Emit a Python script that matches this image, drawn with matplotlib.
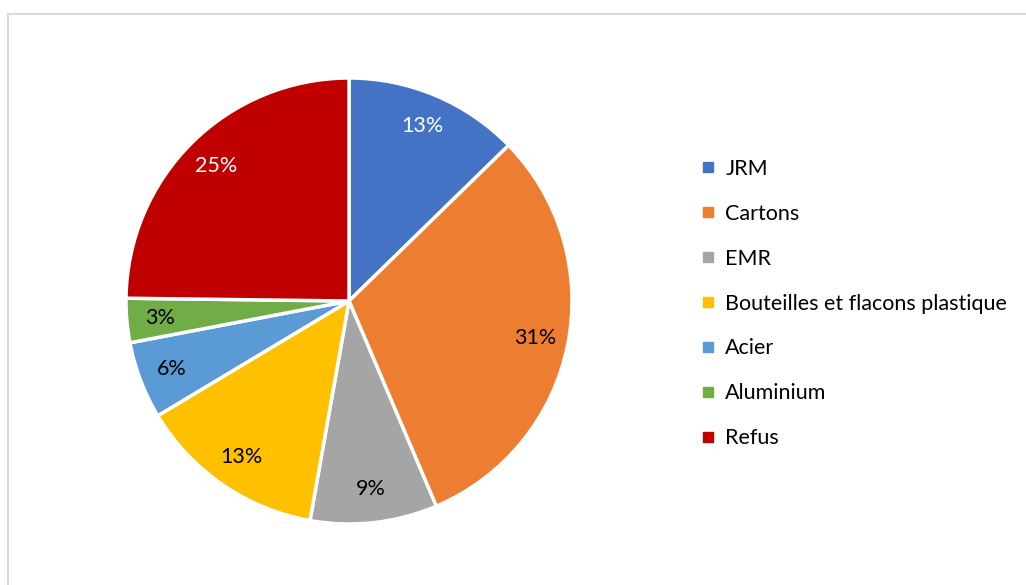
import matplotlib
matplotlib.use("Agg")
import matplotlib.pyplot as plt
from matplotlib.lines import Line2D

plt.rcParams['font.family'] = ['Lato', 'DejaVu Sans']

# data
categories = ['JRM', 'Cartons', 'EMR', 'Bouteilles et flacons plastique',
              'Acier', 'Aluminium', 'Refus']
shares = [12.7, 30.9, 9.2, 13.6, 5.6, 3.2, 24.8]
pct_labels = ['13%', '31%', '9%', '13%', '6%', '3%', '25%']
colors = ['#4472C4', '#ED7D31', '#A5A5A5', '#FFC000', '#5B9BD5', '#70AD47', '#C00000']
label_colors = ['white', 'black', 'black', 'black', 'black', 'black', 'white']

W, H = 1026, 585
fig = plt.figure(figsize=(W / 100, H / 100), dpi=100)

# chart frame (partly cut off on the right and bottom)
frame = fig.add_axes([0, 0, 1, 1])
frame.set_xlim(0, W)
frame.set_ylim(H, 0)
frame.axis('off')
frame.plot([7.5, W], [13.5, 13.5], color='#d9d9d9', lw=1.5)
frame.plot([7.5, 7.5], [13.5, H], color='#d9d9d9', lw=1.5)

# pie: center (349, 301), radius 223 px
cx, cy, r = 349, 301, 223
ax = fig.add_axes([(cx - r) / W, (H - cy - r) / H, 2 * r / W, 2 * r / H])
wedges, texts = ax.pie(shares, colors=colors, startangle=90, counterclock=False,
                       labels=pct_labels, labeldistance=0.85,
                       wedgeprops=dict(edgecolor='white', linewidth=2.5))
for t, c in zip(texts, label_colors):
    t.set_color(c)
    t.set_fontsize(15.5)
    t.set_ha('center')
    t.set_va('center')
ax.set_xlim(-1, 1)
ax.set_ylim(-1, 1)
ax.set_aspect('equal')
for w in wedges:
    w.set_clip_on(False)

handles = [Line2D([], [], marker='s', linestyle='none', markersize=7,
                  markerfacecolor=c, markeredgecolor=c) for c in colors]
leg = fig.legend(handles, categories, loc='upper left',
                 bbox_to_anchor=(692 / W, 1 - 150 / H), frameon=False,
                 fontsize=15.5, handlelength=0.7, handletextpad=0.45,
                 labelspacing=1.16, borderaxespad=0)

fig.savefig('out.png', dpi=100)
